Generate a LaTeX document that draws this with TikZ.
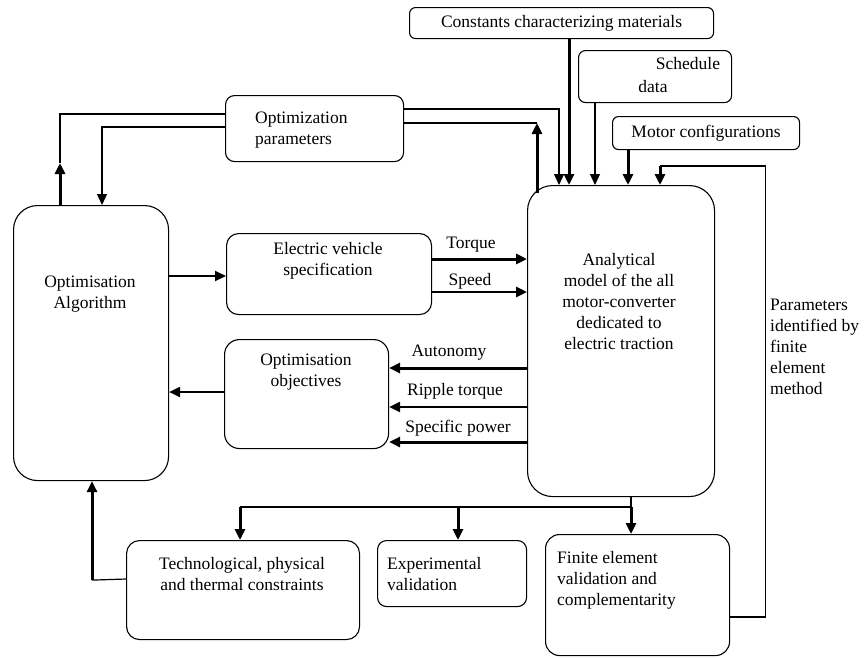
\documentclass[tikz,border=0pt]{standalone}
\usepackage{fontspec}
\setmainfont{Liberation Serif}
\usetikzlibrary{arrows.meta,calc}
\tikzset{
  box/.style={draw, line width=1.1pt, inner sep=0pt, anchor=north west,
    font=\fontsize{17.5}{21.5}\selectfont},
  thinl/.style={line width=1.2pt},
  medl/.style={line width=2pt},
  semil/.style={line width=2.6pt},
  thickl/.style={line width=3pt},
  arrT/.style={-{Triangle[length=11pt,width=10pt]}},
  txt/.style={font=\fontsize{17.5}{21.5}\selectfont, inner sep=0pt, align=center},
}
\begin{document}
\begin{tikzpicture}[x=1pt,y=-1pt]
\useasboundingbox (0,0) rectangle (865,657);
% boxes
\node[box, rounded corners=6pt, minimum width=304pt, minimum height=31pt] (cons) at (409,7) {Constants characterizing materials};
\node[box, rounded corners=7pt, minimum width=153pt, minimum height=52pt] (sched) at (578,50) {};
\node[box, rounded corners=6pt, minimum width=187pt, minimum height=33pt] (motor) at (612,116) {Motor configurations};
\node[box, rounded corners=9pt, minimum width=178pt, minimum height=66pt] (params) at (225,95) {};
\node[box, rounded corners=24pt, minimum width=155pt, minimum height=275pt] (alg) at (13,205) {};
\node[box, rounded corners=12pt, minimum width=205pt, minimum height=81pt] (ev) at (226,233) {};
\node[box, rounded corners=15pt, minimum width=164pt, minimum height=109pt] (obj) at (224,339) {};
\node[box, rounded corners=25pt, minimum width=187pt, minimum height=311pt] (ana) at (527,185) {};
\node[box, rounded corners=13pt, minimum width=233pt, minimum height=99pt] (tech) at (126,540) {};
\node[box, rounded corners=9pt, minimum width=149pt, minimum height=66pt] (expv) at (377,540) {};
\node[box, rounded corners=14pt, minimum width=184pt, minimum height=121pt] (fe) at (545,534) {};
% box texts
\node[txt] (schedA) at (688,64) {Schedule};
\node[txt] (schedB) at (653,87) {data};
\node[txt, align=left, anchor=west] (paramsT) at (255,130) {Optimization\\parameters};
\node[txt] (algT) at (90,294) {Optimisation\\Algorithm};
\node[txt] (evT) at (328,261) {Electric vehicle\\specification};
\node[txt] (objT) at (306,372) {Optimisation\\objectives};
\node[txt, font=\fontsize{17.5}{21}\selectfont] (anaT) at (619,302) {Analytical\\model of the all\\motor-converter\\dedicated to\\electric traction};
\node[txt] (techT) at (242,574) {Technological, physical\\and thermal constraints};
\node[txt, align=left, anchor=west] (expvT) at (387,574) {Experimental\\validation};
\node[txt, align=left, anchor=west, font=\fontsize{17.5}{21}\selectfont] (feT) at (557,580) {Finite element\\validation and\\complementarity};
\node[txt, align=left, anchor=west, font=\fontsize{17.5}{21}\selectfont] (parT) at (770,347) {Parameters\\identified by\\finite\\element\\method};
% edge labels
\node[txt] (lTorque) at (471,245) {Torque};
\node[txt] (lSpeed) at (470,281) {Speed};
\node[txt] (lAuto) at (449,353) {Autonomy};
\node[txt] (lRipple) at (455,391) {Ripple torque};
\node[txt] (lSpec) at (458,428) {Specific power};
% algorithm <-> parameters
\draw[thickl, arrT] ($(alg.north west)+(47,0)$) -- ($(alg.north west)+(47,-42)$);
\draw[thinl] ($(alg.north west)+(47,-42)$) |- ($(params.north west)+(0,19)$);
\draw[thinl, arrT] ($(params.north west)+(0,32)$) -| ($(alg.north west)+(89,0)$);
% parameters <-> analytical
\draw[thinl, arrT] ($(params.north east)+(0,14)$) -| ($(ana.north west)+(32,0)$);
\draw[thickl, arrT] ($(ana.north west)+(10,8)$) -- ($(ana.north west)+(10,-62)$);
\draw[thinl] ($(ana.north west)+(10,-62)$) -- ($(params.north east)+(0,28)$);
% inputs on top
\draw[thickl, arrT] ($(cons.south west)+(160,0)$) -- ($(ana.north west)+(42,0)$);
\draw[thinl, arrT] ($(sched.south west)+(17,0)$) -- ($(ana.north west)+(68,0)$);
\draw[thickl, arrT] ($(motor.south west)+(16,0)$) -- ($(ana.north west)+(101,0)$);
% feedback from finite element
\draw[thinl] ($(fe.north east)+(0,83)$) -| ($(ana.north east)+(50,-19)$) -- ($(ana.north west)+(133,-19)$);
\draw[thickl, arrT] ($(ana.north west)+(133,-19)$) -- ($(ana.north west)+(133,0)$);
% algorithm -> ev spec
\draw[medl, arrT] ($(alg.north east)+(0,71)$) -- ($(ev.north west)+(0,43)$);
% ev -> analytical
\draw[thickl, arrT] ($(ev.north east)+(0,26)$) -- ($(ana.north west)+(0,74)$);
\draw[semil, arrT] ($(ev.north east)+(0,59)$) -- ($(ana.north west)+(0,107)$);
% analytical -> objectives
\draw[thickl, arrT] ($(ana.north west)+(0,183)$) -- ($(obj.north east)+(0,29)$);
\draw[semil, arrT] ($(ana.north west)+(0,222)$) -- ($(obj.north east)+(0,68)$);
\draw[thickl, arrT] ($(ana.north west)+(0,257)$) -- ($(obj.north east)+(0,103)$);
% objectives -> algorithm
\draw[medl, arrT] ($(obj.north west)+(0,53)$) -- ($(alg.north east)+(0,187)$);
% bus to bottom boxes
\draw[thinl] ($(ana.south west)+(104,0)$) -- ($(fe.north west)+(86,-27)$) -- ($(tech.north west)+(114,-33)$);
\draw[thickl, arrT] ($(tech.north west)+(114,-33)$) -- ($(tech.north west)+(114,0)$);
\draw[thickl, arrT] ($(expv.north west)+(81,-33)$) -- ($(expv.north west)+(81,0)$);
\draw[thickl, arrT] ($(fe.north west)+(86,-27)$) -- ($(fe.north west)+(86,0)$);
% constraints -> algorithm
\draw[thinl] ($(tech.north west)+(0,39)$) -- ($(alg.south west)+(79,99)$);
\draw[thickl, arrT] ($(alg.south west)+(79,99)$) -- ($(alg.south west)+(79,0)$);
\end{tikzpicture}
\end{document}
